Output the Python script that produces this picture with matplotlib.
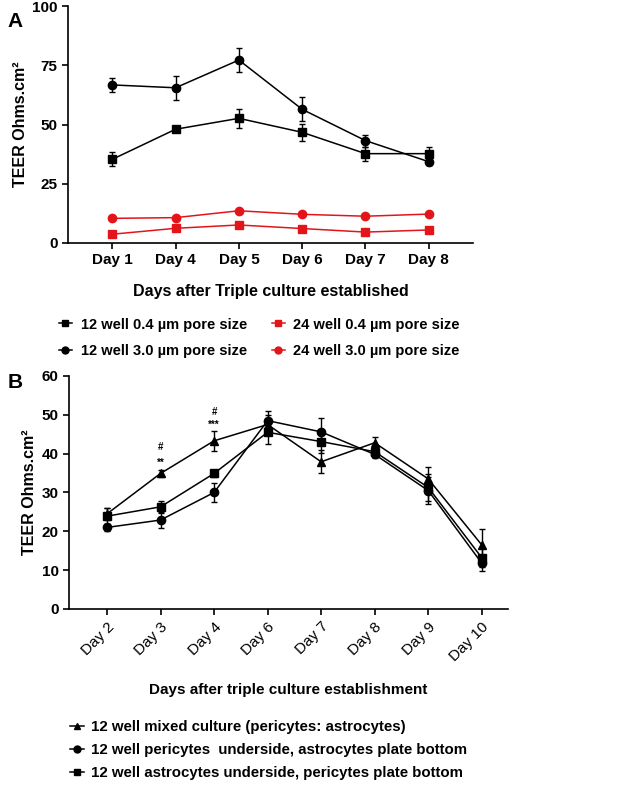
import numpy as np
import matplotlib.pyplot as plt
from matplotlib.lines import Line2D

plt.rcParams['font.family'] = ['Liberation Sans', 'DejaVu Sans']
plt.rcParams['font.weight'] = 'bold'
plt.rcParams['axes.labelweight'] = 'bold'
plt.rcParams['font.size'] = 11
plt.rcParams['lines.linewidth'] = 1.1

# panel A data
days_a = ['Day 1', 'Day 4', 'Day 5', 'Day 6', 'Day 7', 'Day 8']
w12_04 = [35.3, 48.0, 52.6, 46.7, 37.7, 37.7]
w12_04_err = [3.0, 1.0, 4.0, 3.5, 3.0, 3.0]
w12_30 = [66.7, 65.5, 77.2, 56.4, 43.2, 34.3]
w12_30_err = [3.0, 5.0, 5.0, 5.0, 2.5, 1.5]
w24_04 = [3.7, 6.2, 7.6, 6.1, 4.6, 5.5]
w24_30 = [10.4, 10.7, 13.6, 12.1, 11.3, 12.2]

# panel B data
days_b = ['Day 2', 'Day 3', 'Day 4', 'Day 6', 'Day 7', 'Day 8', 'Day 9', 'Day 10']
mixed = [24.5, 34.9, 43.3, 47.5, 37.9, 42.8, 33.5, 16.5]
mixed_err = [1.5, 0.8, 2.5, 2.5, 3.0, 1.5, 3.0, 4.0]
peri = [21.0, 22.9, 30.0, 48.5, 45.6, 39.8, 30.5, 11.8]
peri_err = [1.0, 2.0, 2.5, 2.5, 3.5, 1.0, 3.5, 2.0]
astro = [23.9, 26.3, 34.9, 45.5, 43.1, 40.5, 31.3, 13.2]
astro_err = [2.0, 1.5, 0.8, 3.0, 3.0, 1.0, 3.5, 2.5]

red = '#e3151b'

fig = plt.figure(figsize=(6.33, 7.91), dpi=100)

# ---- panel A
axA = fig.add_axes([0.1074, 0.6928, 0.640, 0.2996])
xa = np.arange(len(days_a))
axA.errorbar(xa, w12_30, yerr=w12_30_err, color='black', marker='o', ms=6, capsize=2.5, elinewidth=1)
axA.errorbar(xa, w12_04, yerr=w12_04_err, color='black', marker='s', ms=6, capsize=2.5, elinewidth=1)
axA.plot(xa, w24_30, color=red, marker='o', ms=6)
axA.plot(xa, w24_04, color=red, marker='s', ms=6)
axA.set_xlim(-0.7, 5.7)
axA.set_ylim(0, 100)
axA.set_yticks([0, 25, 50, 75, 100])
axA.set_xticks(xa)
axA.set_xticklabels(days_a)
axA.set_ylabel('TEER Ohms.cm²', labelpad=3, fontsize=11.5)
axA.set_xlabel('Days after Triple culture established', labelpad=12, fontsize=11.5)
for s in ['top', 'right']:
    axA.spines[s].set_visible(False)
axA.spines['left'].set_linewidth(1.2)
axA.spines['bottom'].set_linewidth(1.2)
axA.tick_params(width=1.2, length=4)

hA = [Line2D([], [], color='black', marker='s', ms=5),
      Line2D([], [], color='black', marker='o', ms=5),
      Line2D([], [], color=red, marker='s', ms=5),
      Line2D([], [], color=red, marker='o', ms=5)]
labA = ['12 well 0.4 µm pore size', '12 well 3.0 µm pore size',
        '24 well 0.4 µm pore size', '24 well 3.0 µm pore size']
fig.legend(hA, labA, ncol=2, loc='center left', bbox_to_anchor=(0.072, 0.573),
           frameon=False, handlelength=0.9, handletextpad=0.6, columnspacing=1.7,
           labelspacing=0.85, fontsize=10.5)

fig.text(0.012, 0.985, 'A', fontsize=15, fontweight='bold', va='top')

# ---- panel B
axB = fig.add_axes([0.109, 0.2301, 0.6935, 0.2946])
xb = np.arange(len(days_b))
axB.errorbar(xb, mixed, yerr=mixed_err, color='black', marker='^', ms=6, capsize=2.5, elinewidth=1)
axB.errorbar(xb, peri, yerr=peri_err, color='black', marker='o', ms=6, capsize=2.5, elinewidth=1)
axB.errorbar(xb, astro, yerr=astro_err, color='black', marker='s', ms=6, capsize=2.5, elinewidth=1)
axB.text(1, 41.7, '#', ha='center', va='center', fontsize=7)
axB.text(1, 37.6, '**', ha='center', va='center', fontsize=7)
axB.text(2, 50.7, '#', ha='center', va='center', fontsize=7)
axB.text(2, 47.4, '***', ha='center', va='center', fontsize=7)
axB.set_xlim(-0.71, 7.49)
axB.set_ylim(0, 60)
axB.set_yticks(np.arange(0, 61, 10))
axB.set_xticks(xb)
axB.set_xticklabels(days_b, rotation=45, ha='right', rotation_mode='anchor',
                    fontweight='normal', fontsize=11)
axB.set_ylabel('TEER Ohms.cm²', labelpad=3, fontsize=11.5)
axB.set_xlabel('Days after triple culture establishment', labelpad=14, fontsize=11)
for s in ['top', 'right']:
    axB.spines[s].set_visible(False)
axB.spines['left'].set_linewidth(1.2)
axB.spines['bottom'].set_linewidth(1.2)
axB.tick_params(width=1.2, length=4)

hB = [Line2D([], [], color='black', marker='^', ms=5),
      Line2D([], [], color='black', marker='o', ms=5),
      Line2D([], [], color='black', marker='s', ms=5)]
labB = ['12 well mixed culture (pericytes: astrocytes)',
        '12 well pericytes  underside, astrocytes plate bottom',
        '12 well astrocytes underside, pericytes plate bottom']
fig.legend(hB, labB, ncol=1, loc='center left', bbox_to_anchor=(0.09, 0.052),
           frameon=False, handlelength=0.9, handletextpad=0.5,
           labelspacing=0.6, fontsize=10.8)

fig.text(0.012, 0.528, 'B', fontsize=15, fontweight='bold', va='top')

fig.savefig('out.png', dpi=100)
